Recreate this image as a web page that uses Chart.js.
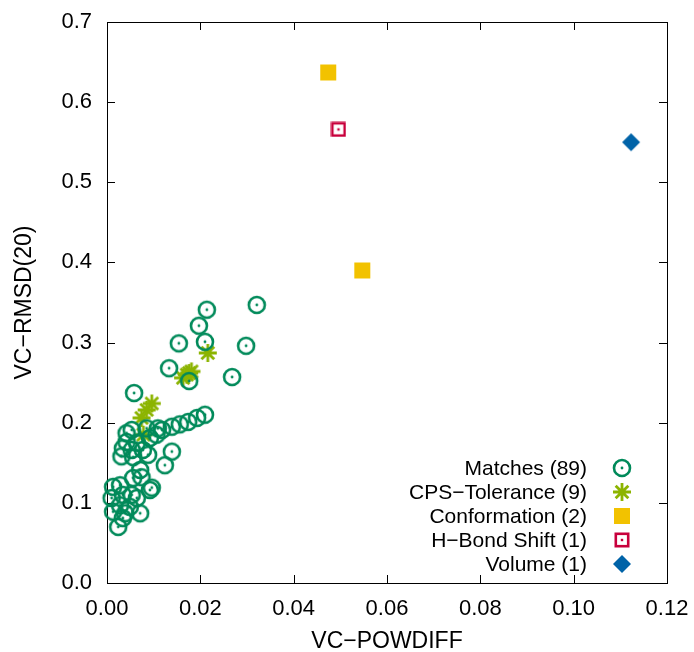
<!DOCTYPE html>
<html><head><meta charset="utf-8">
<script src="https://cdn.jsdelivr.net/npm/chart.js@4/dist/chart.umd.min.js"></script>
<style>html,body{margin:0;padding:0;background:#fff}#wrap{width:694px;height:652px}</style>
</head><body><div id="wrap"><canvas id="c" width="694" height="652"></canvas></div>
<script>
const matchesX = [0.0321,0.0214,0.0197,0.0210,0.0298,0.0154,0.0133,0.0268,0.0176,0.0058,
  0.0210,0.0193,0.0174,0.0156,0.0139,0.0118,0.0053,0.0042,0.0085,0.0109,
  0.0106,0.0092,0.0042,0.0064,0.0034,0.0053,0.0077,0.0088,0.0031,0.0056,
  0.0139,0.0124,0.0071,0.0096,0.0092,0.0013,0.0010,0.0028,0.0034,0.0053,
  0.0064,0.0028,0.0049,0.0013,0.0039,0.0071,0.0024,0.0034,0.0056,0.0074];
const matchesY = [0.347,0.341,0.321,0.301,0.296,0.299,0.268,0.257,0.252,0.237,
  0.210,0.206,0.201,0.198,0.195,0.191,0.191,0.187,0.193,0.193,
  0.185,0.181,0.176,0.175,0.168,0.166,0.166,0.160,0.158,0.157,
  0.164,0.147,0.141,0.119,0.116,0.120,0.106,0.122,0.110,0.110,
  0.106,0.097,0.095,0.089,0.087,0.087,0.070,0.081,0.131,0.132];
const cpsX = [0.0216,0.0181,0.0171,0.0163,0.0176,0.0096,0.0085,0.0074,0.0078];
const cpsY = [0.287,0.264,0.260,0.256,0.262,0.224,0.216,0.206,0.185];
const confX = [0.0474,0.0547];
const confY = [0.637,0.390];
const hbondX = [0.0496];
const hbondY = [0.566];
const volX = [0.1123];
const volY = [0.550];
const seriesNames = ['Matches (89)','CPS\u2212Tolerance (9)','Conformation (2)','H\u2212Bond Shift (1)','Volume (1)'];
const xTickLabels = ['0.00','0.02','0.04','0.06','0.08','0.10','0.12'];
const yTickLabels = ['0.0','0.1','0.2','0.3','0.4','0.5','0.6','0.7'];

function mk(w, h, fn){const c=document.createElement('canvas');c.width=w;c.height=h;const g=c.getContext('2d');fn(g,w,h);return c;}
const green='#008a5a', lime='#8cb400', gold='#f2c200', crimson='#c8003c', blue='#0063a8';
const imgCircle = mk(22,22,(g)=>{g.strokeStyle=green;g.lineWidth=2.6;g.beginPath();g.arc(11,11,8,0,Math.PI*2);g.stroke();g.fillStyle=green;g.beginPath();g.arc(11,11,1.4,0,Math.PI*2);g.fill();});
const imgStar = mk(24,24,(g)=>{g.strokeStyle=lime;g.lineWidth=2.8;g.beginPath();const r=9;for(let i=0;i<4;i++){const a=i*Math.PI/4;g.moveTo(12+r*Math.cos(a),12+r*Math.sin(a));g.lineTo(12-r*Math.cos(a),12-r*Math.sin(a));}g.stroke();});
const imgSquare = mk(18,18,(g)=>{g.fillStyle=gold;g.fillRect(1,1,16,16);});
const imgHB = mk(16,16,(g)=>{g.strokeStyle=crimson;g.lineWidth=2.6;g.strokeRect(1.8,1.8,12.4,12.4);g.fillStyle=crimson;g.fillRect(6.8,6.8,2.4,2.4);});
const imgDiam = mk(20,20,(g)=>{g.fillStyle=blue;g.beginPath();g.moveTo(10,1);g.lineTo(19,10);g.lineTo(10,19);g.lineTo(1,10);g.closePath();g.fill();});
const imgs=[imgCircle,imgStar,imgSquare,imgHB,imgDiam];

const pts=(xs,ys)=>xs.map((x,i)=>({x:x,y:ys[i]}));
const mkds=(i,xs,ys)=>({label:seriesNames[i],data:pts(xs,ys),pointStyle:imgs[i],pointRadius:9,pointHoverRadius:9,clip:false,showLine:false});

const F="'Liberation Sans', Arial, sans-serif";
const framePlugin={id:'frame',
  beforeDatasetsDraw(chart){
    const {ctx,chartArea:a,scales:{x,y}}=chart;
    ctx.save();ctx.strokeStyle='#000';ctx.lineWidth=1;
    ctx.strokeRect(a.left+0.5,a.top+0.5,a.right-a.left,a.bottom-a.top);
    const L=8;ctx.beginPath();
    x.ticks.forEach(t=>{const px=Math.round(x.getPixelForValue(t.value))+0.5;ctx.moveTo(px,a.bottom);ctx.lineTo(px,a.bottom-L);ctx.moveTo(px,a.top);ctx.lineTo(px,a.top+L);});
    y.ticks.forEach(t=>{const py=Math.round(y.getPixelForValue(t.value))+0.5;ctx.moveTo(a.left,py);ctx.lineTo(a.left+L,py);ctx.moveTo(a.right,py);ctx.lineTo(a.right-L,py);});
    ctx.stroke();ctx.restore();
  },
  afterDatasetsDraw(chart){
    const ctx=chart.ctx;ctx.save();
    ctx.font='21px '+F;ctx.fillStyle='#000';ctx.textAlign='right';ctx.textBaseline='middle';
    const rows=[468,492,516,540,564];
    chart.data.datasets.forEach((d,i)=>{
      ctx.fillText(d.label,587,rows[i]+1);
      const im=d.pointStyle;ctx.drawImage(im,622-im.width/2,rows[i]-im.height/2);
    });
    ctx.restore();
  }
};

new Chart(document.getElementById('c'),{
  type:'scatter',
  data:{datasets:[mkds(0,matchesX,matchesY),mkds(1,cpsX,cpsY),mkds(2,confX,confY),mkds(3,hbondX,hbondY),mkds(4,volX,volY)]},
  options:{
    responsive:false,animation:false,
    layout:{padding:{top:22,right:27,bottom:0,left:0}},
    plugins:{legend:{display:false},tooltip:{enabled:false}},
    scales:{
      x:{type:'linear',min:0,max:0.12,
        ticks:{stepSize:0.02,padding:13,color:'#000',font:{family:F,size:22},callback:(v,i)=>xTickLabels[i]},
        grid:{display:false,drawTicks:false},border:{display:false},
        title:{display:true,text:'VC\u2212POWDIFF',color:'#000',font:{family:F,size:23,lineHeight:1},padding:{top:0,bottom:-1}},
        afterFit(s){s.height=69;s.paddingLeft=0;s.paddingRight=0;s.paddingTop=0;s.paddingBottom=0;}},
      y:{type:'linear',min:0,max:0.7,
        ticks:{stepSize:0.1,padding:15,color:'#000',font:{family:F,size:22},callback:(v,i)=>yTickLabels[i]},
        grid:{display:false,drawTicks:false},border:{display:false},
        title:{display:true,text:'VC\u2212RMSD(20)',color:'#000',font:{family:F,size:23,lineHeight:1},padding:{top:13,bottom:0}},
        afterFit(s){s.width=107;s.paddingLeft=0;s.paddingRight=0;s.paddingTop=0;s.paddingBottom=0;}}
    }
  },
  plugins:[framePlugin]
});
</script></body></html>
